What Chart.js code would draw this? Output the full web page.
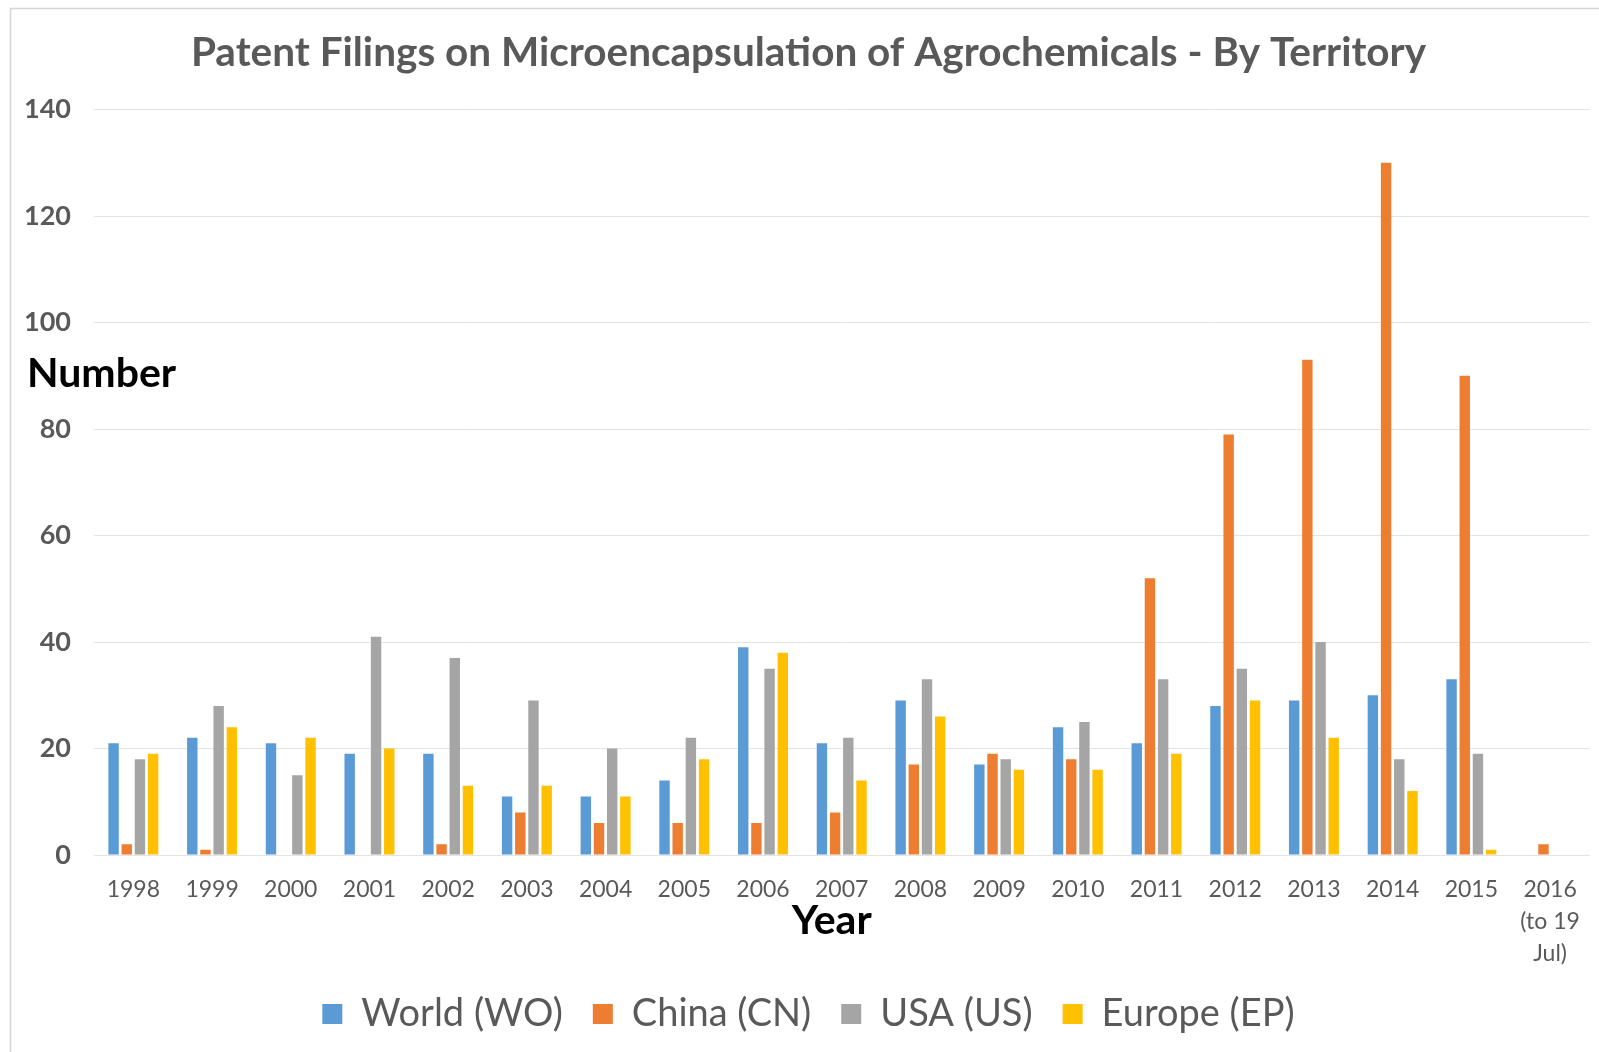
<!DOCTYPE html>
<html>
<head>
<meta charset="utf-8">
<title>Patent Filings on Microencapsulation of Agrochemicals - By Territory</title>
<script src="https://cdn.jsdelivr.net/npm/chart.js@4.4.1/dist/chart.umd.min.js"></script>
<style>
  html, body { margin: 0; padding: 0; background: #ffffff; overflow: hidden; }
  canvas { display: block; }
</style>
</head>
<body>
<canvas id="chart" width="1599" height="1052"></canvas>
<script>
// Filing years (the last one is a partial year, split over three lines)
const years = ['1998', '1999', '2000', '2001', '2002', '2003', '2004', '2005', '2006',
               '2007', '2008', '2009', '2010', '2011', '2012', '2013', '2014', '2015',
               ['2016', '(to 19', 'Jul)']];

// Number of filings per territory
const worldWO  = [21, 22, 21, 19, 19, 11, 11, 14, 39, 21, 29, 17, 24, 21, 28, 29, 30, 33, 0];
const chinaCN  = [2, 1, 0, 0, 2, 8, 6, 6, 6, 8, 17, 19, 18, 52, 79, 93, 130, 90, 2];
const usaUS    = [18, 28, 15, 41, 37, 29, 20, 22, 35, 22, 33, 18, 25, 33, 35, 40, 18, 19, 0];
const europeEP = [19, 24, 22, 20, 13, 13, 11, 18, 38, 14, 26, 16, 16, 19, 29, 22, 12, 1, 0];

const yTicks = [0, 20, 40, 60, 80, 100, 120, 140];

const FONT = 'Lato, "Open Sans", "DejaVu Sans", sans-serif';
const TEXT_GREY = '#595959';
const GRID_GREY = '#e3e3e3';

// White background, thin frame on the top and left edges, and the two axis captions
const framePlugin = {
  id: 'frameAndCaptions',
  beforeDraw(chart) {
    const ctx = chart.ctx;
    ctx.save();
    ctx.fillStyle = '#ffffff';
    ctx.fillRect(0, 0, chart.width, chart.height);
    ctx.strokeStyle = '#d4d4d4';
    ctx.lineWidth = 1.5;
    ctx.beginPath();
    ctx.moveTo(10.5, chart.height);
    ctx.lineTo(10.5, 8.5);
    ctx.lineTo(chart.width, 8.5);
    ctx.stroke();
    ctx.restore();
  },
  afterDraw(chart) {
    const ctx = chart.ctx;
    const area = chart.chartArea;
    ctx.save();
    ctx.fillStyle = '#000000';
    ctx.font = 'bold 41px ' + FONT;
    ctx.textBaseline = 'middle';
    ctx.textAlign = 'left';
    ctx.fillText('Number', area.left - 67, area.top + 264);
    ctx.textAlign = 'center';
    ctx.fillText('Year', (area.left + area.right) / 2 - 10, area.bottom + 66);
    ctx.restore();
  }
};

new Chart(document.getElementById('chart'), {
  type: 'bar',
  data: {
    labels: years,
    datasets: [
      { label: 'World (WO)',  data: worldWO,  backgroundColor: '#5b9bd5' },
      { label: 'China (CN)',  data: chinaCN,  backgroundColor: '#ed7d31' },
      { label: 'USA (US)',    data: usaUS,    backgroundColor: '#a5a5a5' },
      { label: 'Europe (EP)', data: europeEP, backgroundColor: '#ffc000' }
    ]
  },
  options: {
    responsive: false,
    animation: false,
    devicePixelRatio: 1,
    categoryPercentage: 0.67,
    barPercentage: 0.79,
    layout: { padding: { left: 25, right: 7, top: 0, bottom: 9 } },
    plugins: {
      title: {
        display: true,
        text: 'Patent Filings on Microencapsulation of Agrochemicals - By Territory',
        color: TEXT_GREY,
        font: { family: FONT, size: 40.5, weight: 'bold', lineHeight: 1.2 },
        padding: { top: 29, bottom: 32 }
      },
      legend: {
        position: 'bottom',
        labels: {
          color: TEXT_GREY,
          font: { family: FONT, size: 38, weight: 'normal' },
          boxWidth: 20,
          boxHeight: 20,
          padding: 30
        }
      },
      tooltip: { enabled: false }
    },
    scales: {
      x: {
        afterFit(scale) { scale.height = 110; },
        grid: { display: false, drawTicks: false },
        border: { display: true, color: GRID_GREY, width: 1 },
        ticks: {
          color: TEXT_GREY,
          font: { family: FONT, size: 23, lineHeight: 1.38 },
          padding: 19,
          maxRotation: 0,
          autoSkip: false
        }
      },
      y: {
        min: 0,
        max: 140,
        afterBuildTicks(scale) {
          scale.ticks = yTicks.map(v => ({ value: v }));
        },
        afterFit(scale) { scale.width = 69; },
        grid: { color: GRID_GREY, lineWidth: 1, drawTicks: false },
        border: { display: false },
        ticks: {
          color: TEXT_GREY,
          font: { family: FONT, size: 27, weight: 'bold' },
          padding: 23
        }
      }
    }
  },
  plugins: [framePlugin]
});
</script>
</body>
</html>
